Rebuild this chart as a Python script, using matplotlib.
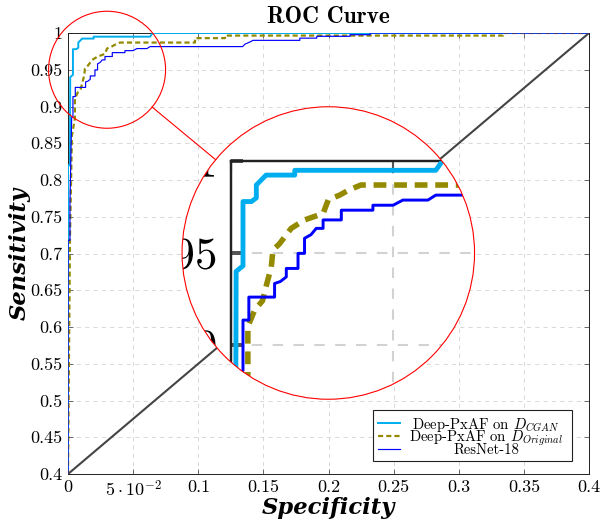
import numpy as np
import matplotlib
matplotlib.use('Agg')
import matplotlib.pyplot as plt
from matplotlib.patches import Circle, Rectangle, PathPatch
from matplotlib.path import Path
from matplotlib.lines import Line2D
from matplotlib.transforms import IdentityTransform
import matplotlib.patheffects as pe

plt.rcParams['font.family'] = 'cmr10'
plt.rcParams['mathtext.fontset'] = 'cm'
plt.rcParams['axes.formatter.use_mathtext'] = True
plt.rcParams['axes.unicode_minus'] = False

# ---------------- data ----------------
cgan_x = [0, 0, 0.0015, 0.0017, 0.0038, 0.0038, 0.0064, 0.0079, 0.0079, 0.0099,
          0.0109, 0.0197, 0.0197, 0.063, 0.065, 0.4]
cgan_y = [0.4, 0.82, 0.82, 0.94, 0.943, 0.978, 0.978, 0.98, 0.987, 0.9906,
          0.9924, 0.9924, 0.995, 0.995, 1.0, 1.0]

orig_x = [0, 0.0015, 0.0030, 0.0053, 0.0053, 0.0074, 0.0098, 0.011, 0.0125, 0.013,
          0.015, 0.0186, 0.0227, 0.0284, 0.030, 0.0335, 0.036, 0.040, 0.0975, 0.0975,
          0.1205, 0.1205, 0.334, 0.334, 0.4]
orig_y = [0.4, 0.72, 0.86, 0.884, 0.91, 0.919, 0.924, 0.9325, 0.9425, 0.9516,
          0.955, 0.9634, 0.968, 0.9715, 0.979, 0.9815, 0.984, 0.987, 0.987, 0.993,
          0.993, 0.9965, 0.9965, 1.0, 1.0]

res_x = [0, 0, 0.0015, 0.0015, 0.0028, 0.0038, 0.0038, 0.0056, 0.0056, 0.0135,
         0.0135, 0.0153, 0.0171, 0.0171, 0.0207, 0.0207, 0.0227, 0.0227, 0.0247, 0.0263,
         0.0284, 0.0284, 0.034, 0.034, 0.0437, 0.0437, 0.0499, 0.0529, 0.0606, 0.063,
         0.134, 0.136, 0.140, 0.142, 0.178, 0.178, 0.191, 0.191, 0.2165, 0.2165,
         0.232, 0.232, 0.4]
res_y = [0.4, 0.718, 0.718, 0.769, 0.885, 0.886, 0.9135, 0.9135, 0.926, 0.926,
         0.9334, 0.9345, 0.937, 0.9416, 0.9416, 0.9498, 0.9498, 0.958, 0.96, 0.9634,
         0.9634, 0.968, 0.968, 0.9733, 0.9733, 0.976, 0.976, 0.9788, 0.9788, 0.9815,
         0.9815, 0.985, 0.988, 0.990, 0.990, 0.993, 0.993, 0.9955, 0.9955, 0.9977,
         0.9977, 1.0, 1.0]

diag_x = [0, 0.4]
diag_y = [0.4, 1.0]

xticks = [0, 0.05, 0.1, 0.15, 0.2, 0.25, 0.3, 0.35, 0.4]
xtick_labels = ['0', r'$5\cdot10^{-2}$', '0.1', '0.15', '0.2', '0.25', '0.3', '0.35', '0.4']
yticks = [0.4, 0.45, 0.5, 0.55, 0.6, 0.65, 0.7, 0.75, 0.8, 0.85, 0.9, 0.95, 1.0]
ytick_labels = ['0.4', '0.45', '0.5', '0.55', '0.6', '0.65', '0.7', '0.75', '0.8',
                '0.85', '0.9', '0.95', '1']

labels = [r'Deep-PxAF on $D_{CGAN}$', r'Deep-PxAF on $D_{Original}$', 'ResNet-18']

C_CGAN = '#00AEEF'
C_ORIG = '#948A00'
C_RES = '#0000FF'
C_DIAG = '#444444'
OLIVE_DASH = (2.3, 1.4)

# ---------------- layout ----------------
W, H = 601, 527
fig = plt.figure(figsize=(W / 100, H / 100), dpi=100)
L, R, T, B = 68, 589, 33, 474
ax = fig.add_axes([L / W, 1 - B / H, (R - L) / W, (B - T) / H])
ax.set_zorder(1)


def draw_panel(a, s):
    a.set_xlim(0, 0.4)
    a.set_ylim(0.4, 1.0)
    a.plot(diag_x, diag_y, color=C_DIAG, lw=1.5 * s, zorder=2)
    a.plot(cgan_x, cgan_y, color=C_CGAN, lw=1.4 * s, zorder=3)
    a.plot(orig_x, orig_y, color=C_ORIG, lw=1.6 * s, dashes=OLIVE_DASH, zorder=4)
    a.plot(res_x, res_y, color=C_RES, lw=0.85 * s, zorder=5)
    a.set_xticks(xticks)
    a.set_xticklabels(xtick_labels)
    a.set_yticks(yticks)
    a.set_yticklabels(ytick_labels)
    a.tick_params(direction='in', length=3.4 * s, width=0.6 * s, labelsize=13 * s,
                  pad=3.8 * s, top=True, right=True, color='#555555')
    a.grid(True, color='#d2d2d2', lw=0.6 * s, ls=(0, (5, 5)), zorder=0.5)
    for sp in a.spines.values():
        sp.set_linewidth(0.7 * s)
        sp.set_color('#222222')


draw_panel(ax, 1.0)

ax.set_title('ROC Curve', fontfamily='cmb10', fontsize=16.8, pad=7.5)
ax.set_xlabel('Specificity', fontfamily='DejaVu Serif', fontweight='bold',
              fontstyle='italic', fontsize=16.3, labelpad=-2)
ax.set_ylabel('Sensitivity', fontfamily='DejaVu Serif', fontweight='bold',
              fontstyle='italic', fontsize=16.3, labelpad=0)

# ---------------- manual legend (centred labels) ----------------
def fx(px):
    return (px - L) / (R - L)


def fy(py):
    return (B - py) / (B - T)


ax.add_patch(Rectangle((fx(373), fy(461)), fx(572) - fx(373), fy(410) - fy(461),
                       transform=ax.transAxes, fc='white', ec='#222222', lw=0.8, zorder=10))
rows = [422.5, 435.5, 449]
styles = [dict(color=C_CGAN, lw=1.4), dict(color=C_ORIG, lw=1.6, dashes=OLIVE_DASH),
          dict(color=C_RES, lw=0.85)]
for ry, lab, st in zip(rows, labels, styles):
    ax.add_line(Line2D([fx(378), fx(400)], [fy(ry), fy(ry)], transform=ax.transAxes,
                       zorder=11, **st))
    ax.text(fx(486), fy(ry), lab, transform=ax.transAxes, ha='center',
            va='center_baseline', fontsize=10.6, zorder=11)

# ---------------- spy / magnified inset ----------------
M = 2.5
spy_data = (0.03, 0.95)
small_r = 58.5
big_c = (328.3, H - 253)
big_r = M * small_r
sx = L + spy_data[0] / 0.4 * (R - L)
sy = (H - B) + (spy_data[1] - 0.4) / 0.6 * (B - T)

ileft = big_c[0] - M * (sx - L)
ibottom = big_c[1] - M * (sy - (H - B))
axz = fig.add_axes([ileft / W, ibottom / H, M * (R - L) / W, M * (B - T) / H])
axz.set_zorder(3)
axz.patch.set_facecolor('none')
draw_panel(axz, M)


def clip_patch():
    # a separate path object for each group of artists (Agg caches clip masks per path)
    return PathPatch(Path.circle(big_c, big_r), transform=IdentityTransform())


clip_lines = clip_patch()
clip_spines = clip_patch()
clip_ticks = clip_patch()
clip_text = clip_patch()

for ln in axz.lines:
    ln.set_clip_path(clip_lines)
for sp in axz.spines.values():
    sp.set_clip_path(clip_spines)
for tk in axz.xaxis.get_major_ticks() + axz.yaxis.get_major_ticks():
    tk.gridline.set_clip_path(clip_lines)
    tk.tick1line.set_clip_path(clip_ticks)
    tk.tick2line.set_clip_path(clip_ticks)
    tk.label1.set_clip_path(clip_text)
    tk.label1.set_path_effects([pe.Normal()])

bg = Circle(big_c, big_r, transform=IdentityTransform(), fc='white', ec='none', zorder=2)
fig.add_artist(bg)

ring_big = Circle(big_c, big_r, transform=IdentityTransform(), fc='none',
                  ec='red', lw=0.8, zorder=5)
ring_small = Circle((sx, sy), small_r, transform=IdentityTransform(), fc='none',
                    ec='red', lw=0.8, zorder=5)
fig.add_artist(ring_big)
fig.add_artist(ring_small)

d = np.array(big_c) - np.array([sx, sy])
u = d / np.hypot(*d)
p0 = np.array([sx, sy]) + u * small_r
p1 = np.array(big_c) - u * big_r
fig.add_artist(Line2D([p0[0], p1[0]], [p0[1], p1[1]], transform=IdentityTransform(),
                      color='red', lw=0.8, zorder=5))

fig.savefig('out.png', dpi=100)
